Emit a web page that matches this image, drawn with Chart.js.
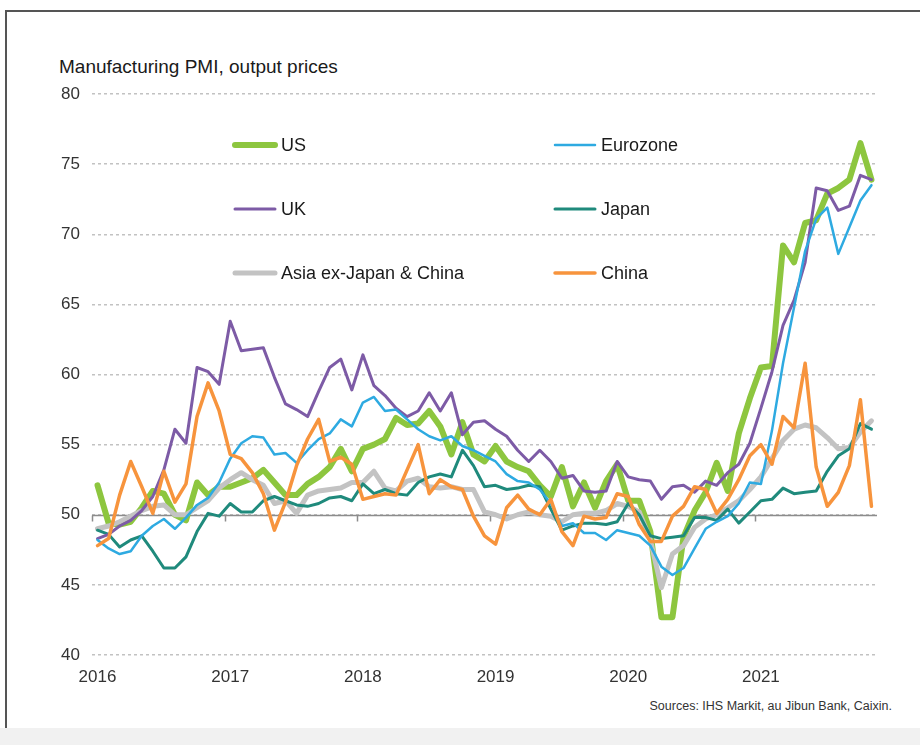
<!DOCTYPE html>
<html><head><meta charset="utf-8">
<script src="https://cdn.jsdelivr.net/npm/chart.js@4.4.1/dist/chart.umd.min.js"></script>
<style>
html,body{margin:0;padding:0;background:#fff;}
#wrap{position:relative;width:920px;height:745px;overflow:hidden;background:#fff;font-family:"Liberation Sans",Arial,sans-serif;}
#frame{position:absolute;left:5px;top:10px;width:930px;height:800px;border-left:2px solid #555;border-top:2px solid #555;}
#bottomband{position:absolute;left:0;top:728px;width:920px;height:17px;background:#f1f1f1;}
#title{position:absolute;left:59px;top:56px;font-size:19px;color:#1a1a1a;white-space:nowrap;}
#source{position:absolute;right:28px;top:699px;font-size:12.5px;color:#333;white-space:nowrap;}
canvas{position:absolute;left:0;top:0;}
</style></head>
<body><div id="wrap">
<div id="frame"></div><div id="bottomband"></div>
<div id="title">Manufacturing PMI, output prices</div>
<div id="source">Sources: IHS Markit, au Jibun Bank, Caixin.</div>
<canvas id="c" width="920" height="745"></canvas>
</div>
<script>
// ---- categories (monthly, Jan 2016 - Nov 2021) ----
const months = [];
for (let yr = 2016; yr <= 2021; yr++) {
  for (let m = 1; m <= 12; m++) {
    if (yr === 2021 && m > 11) break;
    months.push(yr + '-' + String(m).padStart(2, '0'));
  }
}
const seriesNames = ['US', 'Eurozone', 'UK', 'Japan', 'Asia ex-Japan & China', 'China'];
const yTicks = [40, 45, 50, 55, 60, 65, 70, 75, 80];

const us = [
  52.1, 49.4, 49.3, 49.5, 50.5, 51.7, 51.5, 50.0, 49.6, 52.3, 51.4, 52.0,
  52.0, 52.3, 52.6, 53.2, 52.3, 51.4, 51.4, 52.2, 52.7, 53.4, 54.7, 53.1,
  54.7, 55.0, 55.4, 56.9, 56.4, 56.5, 57.4, 56.3, 54.3, 56.6, 54.3, 53.8,
  54.9, 53.8, 53.4, 53.1, 52.1, 51.3, 53.4, 50.6, 52.3, 50.5, 52.4, 53.6,
  51.0, 51.0, 48.8, 42.7, 42.7, 48.4, 50.3, 51.6, 53.7, 51.7, 55.8, 58.3,
  60.5, 60.6, 69.2, 68.0, 70.8, 71.0, 72.9, 73.3, 73.9, 76.5, 73.9
];
const eurozone = [
  48.2, 47.6, 47.2, 47.4, 48.5, 49.2, 49.7, 49.0, 49.8, 50.7, 51.2, 52.3,
  54.0, 55.1, 55.6, 55.5, 54.3, 54.4, 53.7, 54.6, 55.4, 55.8, 56.8, 56.3,
  58.0, 58.4, 57.4, 57.5, 56.8, 56.1, 55.6, 55.3, 55.6, 54.9, 54.6, 54.2,
  53.8, 52.9, 52.4, 52.3, 51.8, 50.8, 49.2, 49.4, 48.7, 48.7, 48.2, 48.9,
  48.7, 48.5, 47.8, 46.3, 45.7, 46.2, 47.6, 49.0, 49.5, 49.9, 50.8, 52.3,
  52.2, 56.0, 60.8, 64.8, 68.8, 71.1, 71.9, 68.6, 70.5, 72.4, 73.5
];
const uk = [
  48.3, 48.6, 49.2, 49.6, 50.3, 51.3, 53.2, 56.1, 55.1, 60.5, 60.2, 59.3,
  63.8, 61.7, 61.8, 61.9, 59.8, 57.9, 57.5, 57.0, 58.8, 60.5, 61.1, 58.9,
  61.4, 59.2, 58.5, 57.6, 57.0, 57.4, 58.7, 57.4, 58.7, 55.7, 56.6, 56.7,
  56.1, 55.6, 54.6, 53.8, 54.6, 53.8, 52.6, 52.8, 51.7, 51.6, 51.7, 53.8,
  52.7, 52.5, 52.4, 51.1, 52.0, 52.1, 51.6, 52.4, 52.1, 53.0, 53.6, 55.1,
  57.6, 60.2, 63.5, 65.3, 68.0, 73.3, 73.1, 71.7, 72.0, 74.2, 73.9
];
const japan = [
  48.9, 48.6, 47.7, 48.2, 48.5, 47.4, 46.2, 46.2, 47.0, 48.8, 50.1, 49.9,
  50.8, 50.2, 50.2, 51.0, 51.3, 51.0, 50.7, 50.6, 50.8, 51.2, 51.3, 51.0,
  52.2, 51.5, 51.8, 51.5, 51.4, 52.3, 52.7, 52.9, 52.7, 54.6, 53.5, 52.0,
  52.1, 51.8, 51.9, 52.1, 52.0, 50.4, 48.9, 49.2, 49.4, 49.4, 49.3, 49.5,
  50.8, 50.0, 48.5, 48.3, 48.4, 48.5, 49.8, 49.8, 49.6, 50.4, 49.4, 50.2,
  51.0, 51.1, 51.9, 51.5, 51.6, 51.7, 53.1, 54.2, 54.7, 56.5, 56.1
];
const asiaExJC = [
  49.0, 49.2, 49.5, 49.9, 50.3, 50.6, 50.7, 50.0, 50.0, 50.5, 51.0, 51.9,
  52.5, 53.0, 52.5, 52.1, 50.8, 51.0, 50.1, 51.4, 51.7, 51.8, 51.9, 52.3,
  52.3, 53.1, 51.9, 51.7, 52.4, 52.6, 52.0, 51.9, 52.0, 51.8, 51.8, 50.2,
  50.0, 49.7, 50.0, 50.2, 50.0, 49.9, 49.5, 50.0, 50.1, 50.1, 50.3, 50.8,
  50.6, 50.2, 48.2, 44.8, 47.2, 47.8, 49.1, 49.7, 50.0, 50.5, 51.0, 51.8,
  52.7, 54.0, 55.3, 56.1, 56.4, 56.2, 55.5, 54.7, 54.8, 55.9, 56.7
];
const china = [
  47.8, 48.3, 51.4, 53.8, 52.0, 50.1, 53.1, 50.9, 52.2, 57.0, 59.4, 57.4,
  54.3, 54.0, 53.0, 51.5, 48.9, 50.9, 53.5, 55.4, 56.8, 53.8, 54.1, 53.6,
  51.1, 51.3, 51.5, 51.4, 53.2, 55.0, 51.5, 52.5, 52.0, 51.8, 49.9, 48.5,
  47.9, 50.5, 51.4, 50.4, 50.0, 51.1, 48.8, 47.8, 49.9, 49.7, 49.8, 51.5,
  51.3, 49.3, 48.1, 48.1, 49.9, 50.6, 52.0, 51.8, 50.1, 51.1, 52.5, 54.2,
  55.0, 53.6, 57.0, 56.2, 60.8, 53.4, 50.6, 51.6, 53.5, 58.2, 50.6
];

const seriesValues = [us, eurozone, uk, japan, asiaExJC, china];
const seriesColors = ['#8dc63f', '#2eaae1', '#7d5ba6', '#1f8a7c', '#c3c3c3', '#f7943d'];
const seriesWidths = [6, 2.5, 3, 3, 5, 3.5];
const seriesOrder = [6, 2, 3, 4, 5, 1];

Chart.defaults.font.family = '"Liberation Sans", Arial, sans-serif';

const legendSlots = [
  {x: 235, y: 145}, {x: 555, y: 145},
  {x: 235, y: 209}, {x: 555, y: 209},
  {x: 235, y: 273}, {x: 555, y: 273}
];

const insideLegend = {
  id: 'insideLegend',
  afterDraw(chart) {
    const ctx = chart.ctx;
    ctx.save();
    chart.data.datasets.forEach((ds, i) => {
      const s = legendSlots[i];
      ctx.strokeStyle = ds.borderColor;
      ctx.lineWidth = ds.borderWidth;
      ctx.lineCap = 'round';
      ctx.beginPath();
      ctx.moveTo(s.x, s.y);
      ctx.lineTo(s.x + 40, s.y);
      ctx.stroke();
      ctx.fillStyle = '#1a1a1a';
      ctx.font = '18px "Liberation Sans", Arial, sans-serif';
      ctx.textBaseline = 'middle';
      ctx.textAlign = 'left';
      ctx.fillText(ds.label, s.x + 46, s.y + 1);
    });
    ctx.restore();
  }
};

const axisAt50 = {
  id: 'axisAt50',
  beforeDatasetsDraw(chart) {
    const {ctx, chartArea, scales: {x, y}} = chart;
    const py = Math.round(y.getPixelForValue(50)) + 0.5;
    const step = x.getPixelForValue(1) - x.getPixelForValue(0);
    ctx.save();
    ctx.strokeStyle = '#8c8c8c';
    ctx.lineWidth = 1.5;
    ctx.beginPath();
    ctx.moveTo(chartArea.left, py);
    ctx.lineTo(chartArea.right, py);
    for (let i = 0; i < months.length; i += 12) {
      const px = Math.round(x.getPixelForValue(i) - step / 2) + 0.5;
      ctx.moveTo(px, py);
      ctx.lineTo(px, py + 6);
    }
    ctx.stroke();
    ctx.restore();
  }
};

new Chart(document.getElementById('c'), {
  type: 'line',
  data: {
    labels: months,
    datasets: seriesNames.map((name, i) => ({
      label: name,
      data: seriesValues[i],
      borderColor: seriesColors[i],
      backgroundColor: seriesColors[i],
      borderWidth: seriesWidths[i],
      order: seriesOrder[i],
      pointRadius: 0,
      tension: 0,
      fill: false,
      borderJoinStyle: 'round',
      borderCapStyle: 'round'
    }))
  },
  options: {
    responsive: false,
    animation: false,
    devicePixelRatio: 1,
    layout: {padding: {left: 0, right: 43, top: 94, bottom: 50}},
    plugins: {legend: {display: false}, tooltip: {enabled: false}, title: {display: false}},
    scales: {
      x: {
        type: 'category',
        offset: true,
        grid: {display: false, drawTicks: false},
        border: {display: false},
        afterFit: s => { s.height = 40; },
        ticks: {
          autoSkip: false, maxRotation: 0, minRotation: 0, padding: 12,
          color: '#333', font: {size: 17},
          callback: (v, idx) => months[idx].endsWith('-01') ? months[idx].slice(0, 4) : null
        }
      },
      y: {
        min: 40, max: 80,
        afterFit: s => { s.width = 92; },
        afterBuildTicks: s => { s.ticks = yTicks.map(v => ({value: v})); },
        grid: {color: '#c2c2c2', lineWidth: 1.5, drawTicks: false},
        border: {display: false, dash: [3, 3]},
        ticks: {padding: 12, color: '#333', font: {size: 17}}
      }
    }
  },
  plugins: [axisAt50, insideLegend]
});
</script>
</body></html>
